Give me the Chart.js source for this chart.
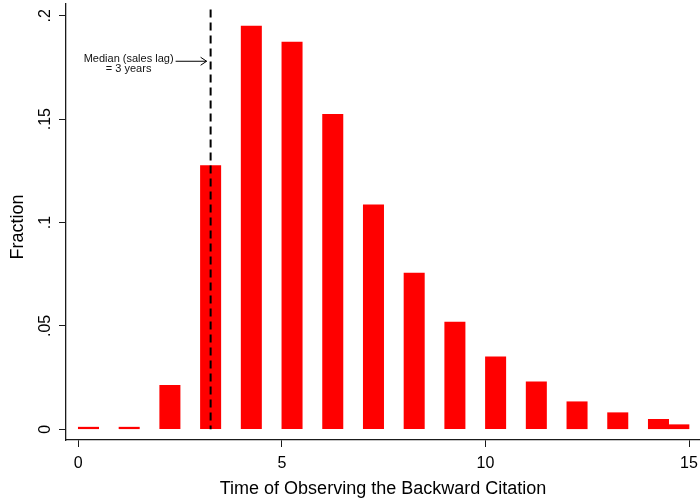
<!DOCTYPE html>
<html>
<head>
<meta charset="utf-8">
<script src="https://cdn.jsdelivr.net/npm/chart.js@4.4.1/dist/chart.umd.min.js"></script>
<style>
  html, body { margin: 0; padding: 0; background: #fff; }
  #wrap { width: 700px; height: 500px; }
</style>
</head>
<body>
<div id="wrap"><canvas id="c" width="700" height="500"></canvas></div>
<script>
// ---- data ----
const binCenters = [0.25, 1.25, 2.25, 3.25, 4.25, 5.25, 6.25, 7.25, 8.25, 9.25, 10.25, 11.25, 12.25, 13.25, 14.25, 14.75];
const fractions  = [0.001, 0.001, 0.0213, 0.1275, 0.195, 0.1873, 0.1523, 0.1085, 0.0756, 0.0519, 0.035, 0.0229, 0.0133, 0.008, 0.0048, 0.0022];
const xTicks = [0, 5, 10, 15];
const yTicks = [0, 0.05, 0.1, 0.15, 0.2];
const medianLag = 3.25;
const medianLineTop = 0.203;
const annotationLines = ['Median (sales lag)', '= 3 years'];
const annotationY = 0.178;
const xTitle = 'Time of Observing the Backward Citation';
const yTitle = 'Fraction';

const FONT = '"Liberation Sans", Arial, sans-serif';
const AXIS_COLOR = '#1a1a1a';

const annotationPlugin = {
  id: 'medianNote',
  afterDatasetsDraw(chart) {
    const ctx = chart.ctx;
    const xs = chart.scales.x, ys = chart.scales.y;
    const lineX = xs.getPixelForValue(medianLag);
    const y = ys.getPixelForValue(annotationY);
    const tip = lineX - 4;
    const start = tip - 31;
    const textCenter = start - 47;
    ctx.save();
    ctx.strokeStyle = '#000';
    ctx.lineWidth = 1;
    ctx.beginPath();
    ctx.moveTo(start, y);
    ctx.lineTo(tip, y);
    ctx.moveTo(tip - 6, y - 4);
    ctx.lineTo(tip, y);
    ctx.lineTo(tip - 6, y + 4);
    ctx.stroke();
    ctx.fillStyle = '#111';
    ctx.font = '11px ' + FONT;
    ctx.textAlign = 'center';
    ctx.textBaseline = 'middle';
    ctx.fillText(annotationLines[0], textCenter, y - 2);
    ctx.fillText(annotationLines[1], textCenter, y + 8);
    ctx.restore();
  }
};

new Chart(document.getElementById('c'), {
  type: 'bar',
  data: {
    datasets: [
      {
        type: 'line',
        data: [{x: medianLag, y: medianLineTop}, {x: medianLag, y: 0}],
        borderColor: '#000',
        borderWidth: 2,
        borderDash: [8, 5],
        pointRadius: 0,
        fill: false,
        order: 0
      },
      {
        type: 'bar',
        data: binCenters.map((x, i) => ({x: x, y: fractions[i]})),
        backgroundColor: '#ff0000',
        borderWidth: 0,
        barPercentage: 1,
        categoryPercentage: 1,
        order: 1
      }
    ]
  },
  options: {
    responsive: false,
    animation: false,
    layout: { padding: { top: 4, right: 0, bottom: 0, left: 0 } },
    plugins: { legend: { display: false }, tooltip: { enabled: false } },
    scales: {
      x: {
        type: 'linear',
        offset: false,
        min: -0.302,
        max: 15.27,
        afterBuildTicks: (s) => { s.ticks = xTicks.map(v => ({value: v})); },
        afterFit: (s) => { s.height = 60; s.paddingLeft = 0; s.paddingRight = 0; },
        grid: { display: true, drawOnChartArea: false, drawTicks: true, tickLength: 7, tickColor: AXIS_COLOR, lineWidth: 1, offset: false },
        border: { display: true, color: AXIS_COLOR, width: 1.3 },
        ticks: { autoSkip: false, maxRotation: 0, padding: 7, color: '#000', font: { family: FONT, size: 16 }, callback: (v) => String(v) },
        title: { display: true, text: xTitle, color: '#000', font: { family: FONT, size: 18 }, padding: { top: 0, bottom: 0 } }
      },
      y: {
        type: 'linear',
        min: -0.0052,
        max: 0.2057,
        afterBuildTicks: (s) => { s.ticks = yTicks.map(v => ({value: v})); },
        afterFit: (s) => { s.width = 66; s.paddingTop = 0; s.paddingBottom = 0; },
        grid: { display: true, drawOnChartArea: false, drawTicks: true, tickLength: 7, tickColor: AXIS_COLOR, lineWidth: 1 },
        border: { display: true, color: AXIS_COLOR, width: 1.3 },
        ticks: {
          autoSkip: false, minRotation: 90, maxRotation: 90, crossAlign: 'center', padding: 2,
          color: '#000', font: { family: FONT, size: 16 },
          callback: (v) => String(v).replace(/^0\./, '.')
        },
        title: { display: true, text: yTitle + '  ', color: '#000', font: { family: FONT, size: 18 }, padding: { top: 7, bottom: 0 } }
      }
    }
  },
  plugins: [annotationPlugin]
});
</script>
</body>
</html>
